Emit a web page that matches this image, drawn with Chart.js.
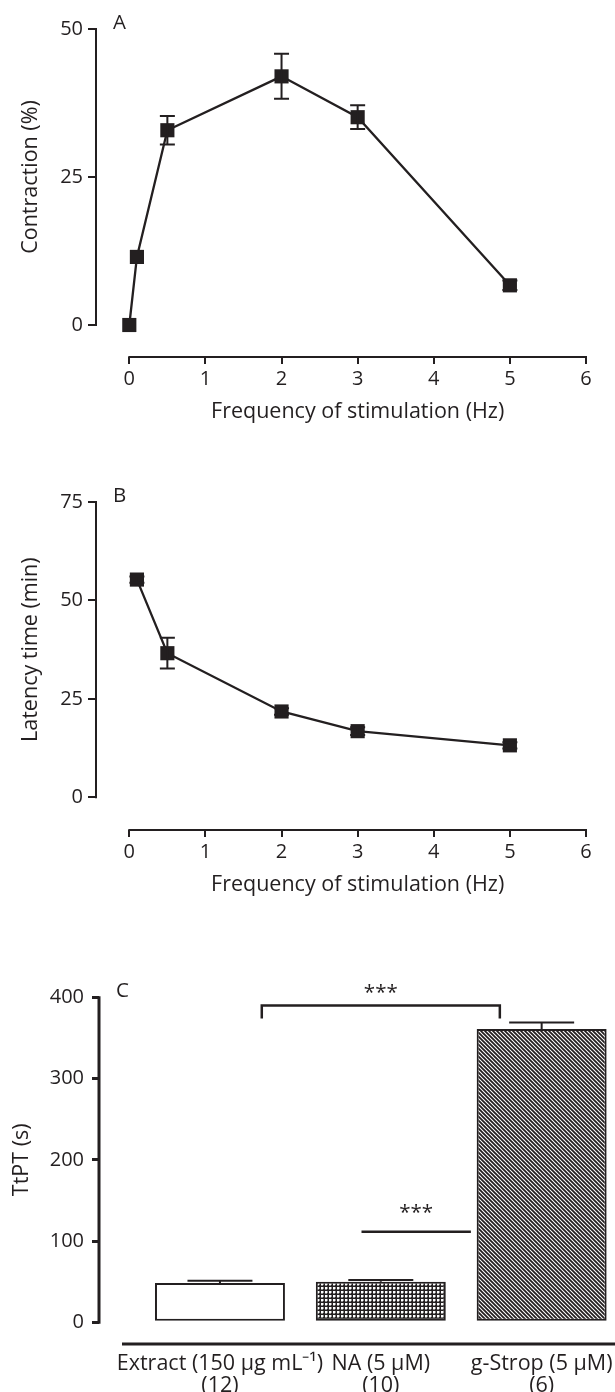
<!DOCTYPE html>
<html>
<head>
<meta charset="utf-8">
<script src="https://cdn.jsdelivr.net/npm/chart.js@4.4.0/dist/chart.umd.min.js"></script>
<style>
  html, body { margin: 0; padding: 0; background: #fff; }
  body { width: 615px; height: 1392px; position: relative; overflow: hidden; }
  canvas { position: absolute; left: 0; }
</style>
</head>
<body>
<canvas id="chartA" width="615" height="440" style="top:0"></canvas>
<canvas id="chartB" width="615" height="440" style="top:473px"></canvas>
<canvas id="chartC" width="615" height="442" style="top:950px"></canvas>
<script>
// A: contraction vs frequency
const freqA = [0, 0.1, 0.5, 2, 3, 5];
const contraction = [0, 11.5, 32.9, 42.0, 35.1, 6.7];
const contractionSem = [0, 0, 2.4, 3.8, 2.0, 0.8];

// B: latency vs frequency
const freqB = [0.1, 0.5, 2, 3, 5];
const latency = [55.3, 36.6, 21.8, 16.8, 13.2];
const latencySem = [0.8, 3.9, 0.8, 1.0, 0.8];

const freqTicks = [0, 1, 2, 3, 4, 5, 6];
const contractionTicks = [0, 25, 50];
const latencyTicks = [0, 25, 50, 75];

// C: TtPT bars
const groups = [['Extract (150 \u03bcg mL\u207b\u00b9)', '(12)'], ['NA (5 \u03bcM)', '(10)'], ['g-Strop (5 \u03bcM)', '(6)']];
const ttpt = [48.5, 50, 361];
const ttptSem = [2.5, 2, 8];
const ttptTicks = [0, 100, 200, 300, 400];

// significance marks (x in group index units, y in seconds)
const sigFrom = [0.26, 0.88];
const sigTo = [1.74, 1.56];
const sigLevel = [390, 111.5];
const sigLegTo = [374, null];
const sigText = ['***', '***'];
const sigTextAt = [397, 126];

const FONT = '"Open Sans", sans-serif';
const INK = '#231f20';
Chart.defaults.font.family = FONT;
Chart.defaults.color = INK;

function fixTicks(list) {
  return s => { s.ticks = list.map(v => ({ value: v })); };
}

function text(ctx, str, x, y, size, align, rot) {
  ctx.save();
  ctx.font = size + 'px ' + FONT;
  ctx.fillStyle = INK;
  ctx.textAlign = align || 'center';
  ctx.textBaseline = 'middle';
  ctx.translate(x, y);
  if (rot) ctx.rotate(rot);
  ctx.fillText(str, 0, 0);
  ctx.restore();
}

function lineDecor(letter, sem, xTicks, yTicks, xTitle, yTitle) {
  return {
    id: 'lineDecor',
    afterDatasetsDraw(chart) {
      const { ctx, chartArea, scales: { x, y } } = chart;
      const pts = chart.data.datasets[0].data;
      ctx.save();
      ctx.strokeStyle = INK;
      ctx.lineWidth = 2;
      pts.forEach((p, i) => {
        if (!sem[i]) return;
        const px = x.getPixelForValue(p.x);
        const top = y.getPixelForValue(p.y + sem[i]);
        const bot = y.getPixelForValue(p.y - sem[i]);
        ctx.beginPath();
        ctx.moveTo(px, top); ctx.lineTo(px, bot);
        ctx.moveTo(px - 7.5, top); ctx.lineTo(px + 7.5, top);
        ctx.moveTo(px - 7.5, bot); ctx.lineTo(px + 7.5, bot);
        ctx.stroke();
      });
      const yTop = y.getPixelForValue(yTicks[yTicks.length - 1]);
      const yBot = y.getPixelForValue(yTicks[0]);
      const x0 = x.getPixelForValue(xTicks[0]);
      const x1 = x.getPixelForValue(xTicks[xTicks.length - 1]);
      ctx.beginPath();
      ctx.moveTo(chartArea.left, yTop - 1); ctx.lineTo(chartArea.left, yBot + 1);
      ctx.moveTo(x0 - 1, chartArea.bottom); ctx.lineTo(x1 + 1, chartArea.bottom);
      ctx.stroke();
      ctx.restore();
      text(ctx, xTitle, (x0 + x1) / 2, chartArea.bottom + 55, 21.5);
      text(ctx, yTitle, 31, (yTop + yBot) / 2, 21.5, 'center', -Math.PI / 2);
      text(ctx, letter, chartArea.left + 17, yTop - 6, 20.5, 'left');
    }
  };
}

function lineChart(id, letter, xs, ys, sem, yTicks, yMin, yTitle) {
  return new Chart(document.getElementById(id), {
    type: 'line',
    data: {
      datasets: [{
        data: xs.map((x, i) => ({ x, y: ys[i] })),
        borderColor: INK, borderWidth: 2.3,
        pointStyle: 'rect', pointRadius: 10, pointBorderWidth: 0,
        pointBackgroundColor: INK, tension: 0, clip: false
      }]
    },
    options: {
      responsive: false, animation: false,
      layout: { padding: { top: 29, right: 29, bottom: 0, left: 0 } },
      plugins: { legend: { display: false }, tooltip: { enabled: false } },
      scales: {
        x: {
          type: 'linear', min: -0.4376, max: 6,
          afterBuildTicks: fixTicks(freqTicks),
          afterFit: s => { s.height = 83; s.paddingLeft = 0; s.paddingRight = 0; },
          border: { display: false },
          grid: { drawOnChartArea: false, tickLength: 7, color: INK, lineWidth: 2 },
          ticks: { padding: 3, font: { size: 20 }, color: INK, maxRotation: 0, autoSkip: false }
        },
        y: {
          min: yMin, max: yTicks[yTicks.length - 1],
          afterBuildTicks: fixTicks(yTicks),
          afterFit: s => { s.width = 96; },
          border: { display: false },
          grid: { drawOnChartArea: false, tickLength: 8, color: INK, lineWidth: 2 },
          ticks: { padding: 5, font: { size: 20 }, color: INK }
        }
      }
    },
    plugins: [lineDecor(letter, sem, freqTicks, yTicks, 'Frequency of stimulation (Hz)', yTitle)]
  });
}

lineChart('chartA', 'A', freqA, contraction, contractionSem, contractionTicks, -5.405, 'Contraction (%)');
lineChart('chartB', 'B', freqB, latency, latencySem, latencyTicks, -8.3, 'Latency time (min)');

function makePattern(size, draw) {
  const c = document.createElement('canvas');
  c.width = c.height = size;
  const g = c.getContext('2d');
  draw(g, size);
  return g.createPattern(c, 'repeat');
}
const dotFill = makePattern(4, (g, s) => {
  g.fillStyle = INK; g.fillRect(0, 0, s, s);
  g.fillStyle = '#fff'; g.fillRect(1, 1, 2, 2);
  g.fillStyle = '#888'; g.fillRect(3, 1, 1, 2); g.fillRect(1, 3, 2, 1);
});
const hatchFill = makePattern(4, (g, s) => {
  g.fillStyle = '#fff'; g.fillRect(0, 0, s, s);
  g.strokeStyle = INK; g.lineWidth = 1.8;
  g.beginPath();
  g.moveTo(-1, -1); g.lineTo(s + 1, s + 1);
  g.moveTo(-1, s - 1); g.lineTo(1, s + 1);
  g.moveTo(s - 1, -1); g.lineTo(s + 1, 1);
  g.stroke();
});

const barDecor = {
  id: 'barDecor',
  afterDatasetsDraw(chart) {
    const { ctx, chartArea, scales: { x, y } } = chart;
    const bars = chart.getDatasetMeta(0).data;
    ctx.save();
    ctx.strokeStyle = INK;
    ctx.lineWidth = 2;
    bars.forEach((el, i) => {
      const top = y.getPixelForValue(ttpt[i] + ttptSem[i]);
      const half = el.width / 4;
      ctx.beginPath();
      ctx.moveTo(el.x, el.y); ctx.lineTo(el.x, top);
      ctx.moveTo(el.x - half, top); ctx.lineTo(el.x + half, top);
      ctx.stroke();
    });
    ctx.lineWidth = 2.5;
    sigFrom.forEach((f, i) => {
      const a = x.getPixelForValue(f), b = x.getPixelForValue(sigTo[i]);
      const yl = y.getPixelForValue(sigLevel[i]);
      ctx.beginPath();
      if (sigLegTo[i] !== null) {
        const yb = y.getPixelForValue(sigLegTo[i]);
        ctx.moveTo(a, yb); ctx.lineTo(a, yl); ctx.lineTo(b, yl); ctx.lineTo(b, yb);
      } else {
        ctx.moveTo(a, yl); ctx.lineTo(b, yl);
      }
      ctx.stroke();
      text(ctx, sigText[i], (a + b) / 2, y.getPixelForValue(sigTextAt[i]) - 7, 20.5);
    });
    const yTop = y.getPixelForValue(ttptTicks[ttptTicks.length - 1]);
    const yBot = y.getPixelForValue(ttptTicks[0]);
    ctx.lineWidth = 3;
    ctx.beginPath();
    ctx.moveTo(chartArea.left, yTop - 1); ctx.lineTo(chartArea.left, yBot + 1.5);
    ctx.moveTo(chartArea.left + 23, chartArea.bottom); ctx.lineTo(chartArea.right, chartArea.bottom);
    ctx.stroke();
    ctx.restore();
    text(ctx, 'TtPT (s)', 22, (yTop + yBot) / 2, 21.5, 'center', -Math.PI / 2);
    text(ctx, 'C', chartArea.left + 17, yTop - 6, 20.5, 'left');
  }
};

new Chart(document.getElementById('chartC'), {
  type: 'bar',
  data: {
    datasets: [{
      data: ttpt.map((v, i) => ({ x: i, y: v })),
      backgroundColor: ['#ffffff', dotFill, hatchFill],
      borderColor: INK, borderWidth: 2, borderSkipped: false,
      barPercentage: 0.808, categoryPercentage: 1
    }]
  },
  options: {
    responsive: false, animation: false,
    layout: { padding: { top: 47.3, right: 0, bottom: 0, left: 0 } },
    plugins: { legend: { display: false }, tooltip: { enabled: false } },
    scales: {
      x: {
        type: 'linear', offset: false, min: -0.752, max: 2.456,
        afterBuildTicks: fixTicks(groups.map((g, i) => i)),
        afterFit: s => { s.height = 48; s.paddingLeft = 0; s.paddingRight = 0; },
        border: { display: false },
        grid: { display: false, drawTicks: false, offset: false },
        ticks: { padding: 9, font: { size: 21.5, lineHeight: 1.01 }, color: INK, maxRotation: 0, autoSkip: false, callback: v => groups[v] }
      },
      y: {
        min: -26.7, max: 400,
        afterBuildTicks: fixTicks(ttptTicks),
        afterFit: s => { s.width = 99; },
        border: { display: false },
        grid: { drawOnChartArea: false, tickLength: 7, color: INK, lineWidth: 3 },
        ticks: { padding: 8, font: { size: 20 }, color: INK }
      }
    }
  },
  plugins: [barDecor]
});
</script>
</body>
</html>
